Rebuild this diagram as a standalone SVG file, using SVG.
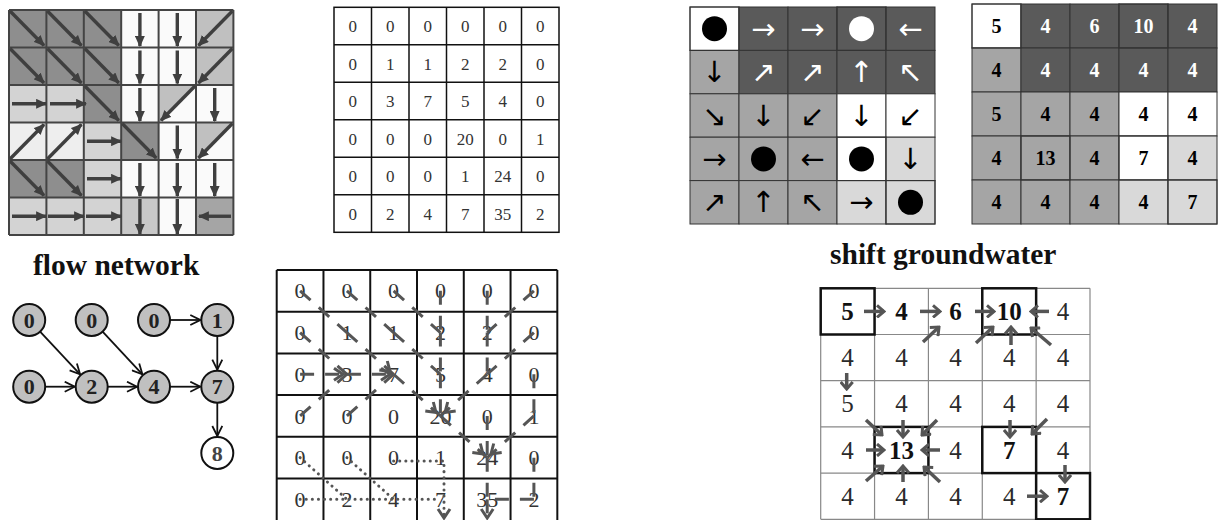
<svg xmlns="http://www.w3.org/2000/svg" width="1228" height="520" viewBox="0 0 1228 520">
<style>
.tla line{stroke:#3f3f3f;stroke-width:3.4;marker-end:url(#th)}
.gl line{stroke:#444;stroke-width:2}
.ser{font-family:'Liberation Serif','Times New Roman',serif;text-anchor:middle}
.m16{font-size:17px;fill:#333}
.b20{font-size:20px;font-weight:bold}
.n22{font-size:22px;fill:#333}
.n25{font-size:25px;fill:#2a2a2a}
.bb25{font-size:25px;font-weight:bold;fill:#111}
.arw{font-family:'DejaVu Sans',sans-serif;font-size:29px;text-anchor:middle;dominant-baseline:central}
.wt{fill:#fff}
.bk{fill:#000}
.thick{fill:none;stroke:#000;stroke-width:3}
.dash{stroke:#555;stroke-width:3;stroke-dasharray:14 11;fill:none}
.dot{stroke:#555;stroke-width:3;stroke-dasharray:0.1 6;stroke-linecap:round;fill:none}
.hd{stroke:#555;stroke-width:3;fill:none}
.ga line{stroke:#555;stroke-width:3.5;marker-end:url(#gv)}
.fe line{stroke:#111;stroke-width:1.8;marker-end:url(#fv)}
.node circle{fill:#c0c0c0;stroke:#111;stroke-width:2}
.node text{font-family:'Liberation Serif','Times New Roman',serif;font-size:22px;font-weight:bold;text-anchor:middle;fill:#222}
.title{font-family:'Liberation Serif','Times New Roman',serif;font-weight:bold;font-size:29.5px;fill:#111}
.c1 rect{stroke:#333;stroke-width:1}
</style>
<defs>
<marker id="th" viewBox="0 0 10 9" refX="9" refY="4.5" markerWidth="11" markerHeight="10" markerUnits="userSpaceOnUse" orient="auto"><path d="M0,0 L10,4.5 L0,9 z" fill="#3f3f3f"/></marker>
<marker id="fv" viewBox="0 0 12 12" refX="11" refY="6" markerWidth="12" markerHeight="12" markerUnits="userSpaceOnUse" orient="auto"><path d="M1,1 L11,6 L1,11" fill="none" stroke="#111" stroke-width="1.8"/></marker>
<marker id="gv" viewBox="0 0 12 14" refX="10" refY="7" markerWidth="12" markerHeight="14" markerUnits="userSpaceOnUse" orient="auto"><path d="M3,1 L10,7 L3,13" fill="none" stroke="#555" stroke-width="3"/></marker>
</defs>
<rect width="1228" height="520" fill="#fff"/>

<!-- top-left flow direction grid -->
<g id="flowdir">
<g>
<rect x="9" y="10" width="37.4" height="37.5" fill="#8e8e8e"/><rect x="46.4" y="10" width="37.4" height="37.5" fill="#8e8e8e"/><rect x="83.8" y="10" width="37.4" height="37.5" fill="#8e8e8e"/><rect x="121.2" y="10" width="37.4" height="37.5" fill="#fafafa"/><rect x="158.6" y="10" width="37.4" height="37.5" fill="#fafafa"/><rect x="196" y="10" width="37.4" height="37.5" fill="#c0c0c0"/>
<rect x="9" y="47.5" width="37.4" height="37.5" fill="#8e8e8e"/><rect x="46.4" y="47.5" width="37.4" height="37.5" fill="#8e8e8e"/><rect x="83.8" y="47.5" width="37.4" height="37.5" fill="#8e8e8e"/><rect x="121.2" y="47.5" width="37.4" height="37.5" fill="#fafafa"/><rect x="158.6" y="47.5" width="37.4" height="37.5" fill="#fafafa"/><rect x="196" y="47.5" width="37.4" height="37.5" fill="#c0c0c0"/>
<rect x="9" y="85" width="37.4" height="37.5" fill="#d3d3d3"/><rect x="46.4" y="85" width="37.4" height="37.5" fill="#d3d3d3"/><rect x="83.8" y="85" width="37.4" height="37.5" fill="#8e8e8e"/><rect x="121.2" y="85" width="37.4" height="37.5" fill="#fafafa"/><rect x="158.6" y="85" width="37.4" height="37.5" fill="#fafafa"/><rect x="196" y="85" width="37.4" height="37.5" fill="#fafafa"/>
<polygon points="158.6,85 196,85 158.6,122.5" fill="#c0c0c0"/>
<rect x="9" y="122.5" width="37.4" height="37.5" fill="#eeeeee"/><rect x="46.4" y="122.5" width="37.4" height="37.5" fill="#eeeeee"/><rect x="83.8" y="122.5" width="37.4" height="37.5" fill="#d3d3d3"/><rect x="121.2" y="122.5" width="37.4" height="37.5" fill="#8e8e8e"/><rect x="158.6" y="122.5" width="37.4" height="37.5" fill="#fafafa"/><rect x="196" y="122.5" width="37.4" height="37.5" fill="#fafafa"/>
<polygon points="196,122.5 233.4,122.5 196,160" fill="#c0c0c0"/>
<rect x="9" y="160" width="37.4" height="37.5" fill="#8e8e8e"/><rect x="46.4" y="160" width="37.4" height="37.5" fill="#8e8e8e"/><rect x="83.8" y="160" width="37.4" height="37.5" fill="#d3d3d3"/><rect x="121.2" y="160" width="37.4" height="37.5" fill="#fafafa"/><rect x="158.6" y="160" width="37.4" height="37.5" fill="#fafafa"/><rect x="196" y="160" width="37.4" height="37.5" fill="#fafafa"/>
<rect x="9" y="197.5" width="37.4" height="37.5" fill="#d3d3d3"/><rect x="46.4" y="197.5" width="37.4" height="37.5" fill="#d3d3d3"/><rect x="83.8" y="197.5" width="37.4" height="37.5" fill="#d3d3d3"/><rect x="121.2" y="197.5" width="37.4" height="37.5" fill="#c8c8c8"/><rect x="158.6" y="197.5" width="37.4" height="37.5" fill="#fafafa"/><rect x="196" y="197.5" width="37.4" height="37.5" fill="#a5a5a5"/>
</g>
<g class="gl">
<line x1="9" y1="10" x2="9" y2="235"/><line x1="46.4" y1="10" x2="46.4" y2="235"/><line x1="83.8" y1="10" x2="83.8" y2="235"/><line x1="121.2" y1="10" x2="121.2" y2="235"/><line x1="158.6" y1="10" x2="158.6" y2="235"/><line x1="196" y1="10" x2="196" y2="235"/><line x1="233.4" y1="10" x2="233.4" y2="235"/>
<line x1="9" y1="10" x2="233.4" y2="10"/><line x1="9" y1="47.5" x2="233.4" y2="47.5"/><line x1="9" y1="85" x2="233.4" y2="85"/><line x1="9" y1="122.5" x2="233.4" y2="122.5"/><line x1="9" y1="160" x2="233.4" y2="160"/><line x1="9" y1="197.5" x2="233.4" y2="197.5"/><line x1="9" y1="235" x2="233.4" y2="235"/>
</g>
<g class="tla">
<line x1="10" y1="11" x2="44" y2="45.5"/><line x1="47.4" y1="11" x2="81.4" y2="45.5"/><line x1="84.8" y1="11" x2="118.8" y2="45.5"/><line x1="139.9" y1="13" x2="139.9" y2="46"/><line x1="177.3" y1="13" x2="177.3" y2="46"/><line x1="232.4" y1="11" x2="198.5" y2="45.5"/>
<line x1="10" y1="48.5" x2="44" y2="83"/><line x1="47.4" y1="48.5" x2="81.4" y2="83"/><line x1="84.8" y1="48.5" x2="118.8" y2="83"/><line x1="139.9" y1="50.5" x2="139.9" y2="83.5"/><line x1="177.3" y1="50.5" x2="177.3" y2="83.5"/><line x1="232.4" y1="48.5" x2="198.5" y2="83"/>
<line x1="12" y1="103.75" x2="46" y2="103.75"/><line x1="50" y1="103.75" x2="86" y2="103.75"/><line x1="84.8" y1="86" x2="118.8" y2="120.5"/><line x1="139.9" y1="88" x2="139.9" y2="121"/><line x1="195" y1="86" x2="161" y2="120.5"/><line x1="214.7" y1="88" x2="214.7" y2="121"/>
<line x1="10" y1="159" x2="44" y2="124.5"/><line x1="47.4" y1="159" x2="81.4" y2="124.5"/><line x1="87" y1="141.25" x2="121" y2="141.25"/><line x1="122.2" y1="123.5" x2="156.2" y2="158"/><line x1="177.3" y1="125.5" x2="177.3" y2="158.5"/><line x1="232.4" y1="123.5" x2="198.5" y2="158"/>
<line x1="10" y1="161" x2="44" y2="195.5"/><line x1="47.4" y1="161" x2="81.4" y2="195.5"/><line x1="87" y1="178.75" x2="121" y2="178.75"/><line x1="139.9" y1="163" x2="139.9" y2="196"/><line x1="177.3" y1="163" x2="177.3" y2="196"/><line x1="214.7" y1="163" x2="214.7" y2="196"/>
<line x1="12" y1="216.25" x2="46" y2="216.25"/><line x1="48" y1="216.25" x2="84" y2="216.25"/><line x1="86" y1="216.25" x2="121" y2="216.25"/><line x1="139.9" y1="199" x2="139.9" y2="234"/><line x1="177.3" y1="199" x2="177.3" y2="234"/><line x1="231" y1="216.25" x2="199" y2="216.25"/>
</g>
</g>

<!-- top-middle accumulation matrix -->
<g id="accmatrix">
<rect x="334" y="7.3" width="225" height="225" fill="#fff" stroke="#111" stroke-width="1.5"/>
<g stroke="#111" stroke-width="1.5">
<line x1="371.5" y1="7.3" x2="371.5" y2="232.3"/><line x1="409" y1="7.3" x2="409" y2="232.3"/><line x1="446.5" y1="7.3" x2="446.5" y2="232.3"/><line x1="484" y1="7.3" x2="484" y2="232.3"/><line x1="521.5" y1="7.3" x2="521.5" y2="232.3"/>
<line x1="334" y1="44.8" x2="559" y2="44.8"/><line x1="334" y1="82.3" x2="559" y2="82.3"/><line x1="334" y1="119.8" x2="559" y2="119.8"/><line x1="334" y1="157.3" x2="559" y2="157.3"/><line x1="334" y1="194.8" x2="559" y2="194.8"/>
</g>
<g class="ser m16">
<text x="352.75" y="32">0</text><text x="390.25" y="32">0</text><text x="427.75" y="32">0</text><text x="465.25" y="32">0</text><text x="502.75" y="32">0</text><text x="540.25" y="32">0</text>
<text x="352.75" y="69.5">0</text><text x="390.25" y="69.5">1</text><text x="427.75" y="69.5">1</text><text x="465.25" y="69.5">2</text><text x="502.75" y="69.5">2</text><text x="540.25" y="69.5">0</text>
<text x="352.75" y="107">0</text><text x="390.25" y="107">3</text><text x="427.75" y="107">7</text><text x="465.25" y="107">5</text><text x="502.75" y="107">4</text><text x="540.25" y="107">0</text>
<text x="352.75" y="144.5">0</text><text x="390.25" y="144.5">0</text><text x="427.75" y="144.5">0</text><text x="465.25" y="144.5">20</text><text x="502.75" y="144.5">0</text><text x="540.25" y="144.5">1</text>
<text x="352.75" y="182">0</text><text x="390.25" y="182">0</text><text x="427.75" y="182">0</text><text x="465.25" y="182">1</text><text x="502.75" y="182">24</text><text x="540.25" y="182">0</text>
<text x="352.75" y="219.5">0</text><text x="390.25" y="219.5">2</text><text x="427.75" y="219.5">4</text><text x="465.25" y="219.5">7</text><text x="502.75" y="219.5">35</text><text x="540.25" y="219.5">2</text>
</g>
</g>

<!-- top-right direction grid -->
<g id="shiftdir" class="c1">
<rect x="690" y="7" width="49" height="43.4" fill="#fff"/><rect x="739" y="7" width="49" height="43.4" fill="#5a5a5a"/><rect x="788" y="7" width="49" height="43.4" fill="#5a5a5a"/><rect x="837" y="7" width="49" height="43.4" fill="#5a5a5a"/><rect x="886" y="7" width="49" height="43.4" fill="#5a5a5a"/>
<rect x="690" y="50.4" width="49" height="43.4" fill="#a5a5a5"/><rect x="739" y="50.4" width="49" height="43.4" fill="#5a5a5a"/><rect x="788" y="50.4" width="49" height="43.4" fill="#5a5a5a"/><rect x="837" y="50.4" width="49" height="43.4" fill="#5a5a5a"/><rect x="886" y="50.4" width="49" height="43.4" fill="#5a5a5a"/>
<rect x="690" y="93.8" width="49" height="43.4" fill="#a5a5a5"/><rect x="739" y="93.8" width="49" height="43.4" fill="#a5a5a5"/><rect x="788" y="93.8" width="49" height="43.4" fill="#a5a5a5"/><rect x="837" y="93.8" width="49" height="43.4" fill="#fff"/><rect x="886" y="93.8" width="49" height="43.4" fill="#fff"/>
<rect x="690" y="137.2" width="49" height="43.4" fill="#a5a5a5"/><rect x="739" y="137.2" width="49" height="43.4" fill="#a5a5a5"/><rect x="788" y="137.2" width="49" height="43.4" fill="#a5a5a5"/><rect x="837" y="137.2" width="49" height="43.4" fill="#fff"/><rect x="886" y="137.2" width="49" height="43.4" fill="#d9d9d9"/>
<rect x="690" y="180.6" width="49" height="43.4" fill="#a5a5a5"/><rect x="739" y="180.6" width="49" height="43.4" fill="#a5a5a5"/><rect x="788" y="180.6" width="49" height="43.4" fill="#a5a5a5"/><rect x="837" y="180.6" width="49" height="43.4" fill="#d9d9d9"/><rect x="886" y="180.6" width="49" height="43.4" fill="#d9d9d9"/>
<rect class="thick" x="690" y="7" width="49" height="43.4"/><rect class="thick" x="837" y="7" width="49" height="43.4"/><rect class="thick" x="837" y="137.2" width="49" height="43.4"/><rect class="thick" x="886" y="180.6" width="49" height="43.4"/>
<circle cx="714.5" cy="28.7" r="12.5" fill="#000"/><circle cx="861.5" cy="28.7" r="12.5" fill="#fff"/><circle cx="763.5" cy="158.9" r="12.5" fill="#000"/><circle cx="861.5" cy="158.9" r="12.5" fill="#000"/><circle cx="910.5" cy="202.3" r="12.5" fill="#000"/>
<g class="arw">
<text class="wt" x="763.5" y="28.7">→</text><text class="wt" x="812.5" y="28.7">→</text><text class="wt" x="910.5" y="28.7">←</text>
<text class="bk" x="714.5" y="72.1">↓</text><text class="wt" x="763.5" y="72.1">↗</text><text class="wt" x="812.5" y="72.1">↗</text><text class="wt" x="861.5" y="72.1">↑</text><text class="wt" x="910.5" y="72.1">↖</text>
<text class="bk" x="714.5" y="115.5">↘</text><text class="bk" x="763.5" y="115.5">↓</text><text class="bk" x="812.5" y="115.5">↙</text><text class="bk" x="861.5" y="115.5">↓</text><text class="bk" x="910.5" y="115.5">↙</text>
<text class="bk" x="714.5" y="158.9">→</text><text class="bk" x="812.5" y="158.9">←</text><text class="bk" x="910.5" y="158.9">↓</text>
<text class="bk" x="714.5" y="202.3">↗</text><text class="bk" x="763.5" y="202.3">↑</text><text class="bk" x="812.5" y="202.3">↖</text><text class="bk" x="861.5" y="202.3">→</text>
</g>
</g>

<!-- top-right value grid -->
<g id="shiftval" class="c1">
<rect x="972" y="4" width="49" height="44" fill="#fff"/><rect x="1021" y="4" width="49" height="44" fill="#5a5a5a"/><rect x="1070" y="4" width="49" height="44" fill="#5a5a5a"/><rect x="1119" y="4" width="49" height="44" fill="#5a5a5a"/><rect x="1168" y="4" width="49" height="44" fill="#5a5a5a"/>
<rect x="972" y="48" width="49" height="44" fill="#a5a5a5"/><rect x="1021" y="48" width="49" height="44" fill="#5a5a5a"/><rect x="1070" y="48" width="49" height="44" fill="#5a5a5a"/><rect x="1119" y="48" width="49" height="44" fill="#5a5a5a"/><rect x="1168" y="48" width="49" height="44" fill="#5a5a5a"/>
<rect x="972" y="92" width="49" height="44" fill="#a5a5a5"/><rect x="1021" y="92" width="49" height="44" fill="#a5a5a5"/><rect x="1070" y="92" width="49" height="44" fill="#a5a5a5"/><rect x="1119" y="92" width="49" height="44" fill="#fff"/><rect x="1168" y="92" width="49" height="44" fill="#fff"/>
<rect x="972" y="136" width="49" height="44" fill="#a5a5a5"/><rect x="1021" y="136" width="49" height="44" fill="#a5a5a5"/><rect x="1070" y="136" width="49" height="44" fill="#a5a5a5"/><rect x="1119" y="136" width="49" height="44" fill="#fff"/><rect x="1168" y="136" width="49" height="44" fill="#d9d9d9"/>
<rect x="972" y="180" width="49" height="44" fill="#a5a5a5"/><rect x="1021" y="180" width="49" height="44" fill="#a5a5a5"/><rect x="1070" y="180" width="49" height="44" fill="#a5a5a5"/><rect x="1119" y="180" width="49" height="44" fill="#d9d9d9"/><rect x="1168" y="180" width="49" height="44" fill="#d9d9d9"/>
<rect class="thick" x="972" y="4" width="49" height="44"/><rect class="thick" x="1119" y="4" width="49" height="44"/><rect class="thick" x="1021" y="136" width="49" height="44"/><rect class="thick" x="1119" y="136" width="49" height="44"/><rect class="thick" x="1168" y="180" width="49" height="44"/>
<g class="ser b20">
<text class="bk" x="996.5" y="33">5</text><text class="wt" x="1045.5" y="33">4</text><text class="wt" x="1094.5" y="33">6</text><text class="wt" x="1143.5" y="33">10</text><text class="wt" x="1192.5" y="33">4</text>
<text class="bk" x="996.5" y="77">4</text><text class="wt" x="1045.5" y="77">4</text><text class="wt" x="1094.5" y="77">4</text><text class="wt" x="1143.5" y="77">4</text><text class="wt" x="1192.5" y="77">4</text>
<text class="bk" x="996.5" y="121">5</text><text class="bk" x="1045.5" y="121">4</text><text class="bk" x="1094.5" y="121">4</text><text class="bk" x="1143.5" y="121">4</text><text class="bk" x="1192.5" y="121">4</text>
<text class="bk" x="996.5" y="165">4</text><text class="bk" x="1045.5" y="165">13</text><text class="bk" x="1094.5" y="165">4</text><text class="bk" x="1143.5" y="165">7</text><text class="bk" x="1192.5" y="165">4</text>
<text class="bk" x="996.5" y="209">4</text><text class="bk" x="1045.5" y="209">4</text><text class="bk" x="1094.5" y="209">4</text><text class="bk" x="1143.5" y="209">4</text><text class="bk" x="1192.5" y="209">7</text>
</g>
</g>

<text class="title" x="33" y="275">flow network</text>
<text class="title" x="830" y="264">shift groundwater</text>

<!-- flow network graph -->
<g id="fn-edges" class="fe">
<line x1="40.1" y1="331.7" x2="80.1" y2="374.3"/>
<line x1="102.6" y1="331.7" x2="142.4" y2="374.3"/>
<line x1="170" y1="320" x2="200.3" y2="320"/>
<line x1="217.3" y1="336" x2="217.3" y2="369.7"/>
<line x1="45.2" y1="386.7" x2="74.7" y2="386.7"/>
<line x1="107.7" y1="386.7" x2="137" y2="386.7"/>
<line x1="170" y1="386.7" x2="200.3" y2="386.7"/>
<line x1="217.3" y1="402.7" x2="217.3" y2="436"/>
</g>
<g id="fn-a" class="node"><circle cx="29.2" cy="320" r="16"/><text x="29.2" y="327.5">0</text></g>
<g id="fn-b" class="node"><circle cx="91.7" cy="320" r="16"/><text x="91.7" y="327.5">0</text></g>
<g id="fn-c" class="node"><circle cx="154" cy="320" r="16"/><text x="154" y="327.5">0</text></g>
<g id="fn-d" class="node"><circle cx="217.3" cy="320" r="16"/><text x="217.3" y="327.5">1</text></g>
<g id="fn-e" class="node"><circle cx="29.2" cy="386.7" r="16"/><text x="29.2" y="394.2">0</text></g>
<g id="fn-f" class="node"><circle cx="91.7" cy="386.7" r="16"/><text x="91.7" y="394.2">2</text></g>
<g id="fn-g" class="node"><circle cx="154" cy="386.7" r="16"/><text x="154" y="394.2">4</text></g>
<g id="fn-h" class="node"><circle cx="217.3" cy="386.7" r="16"/><text x="217.3" y="394.2">7</text></g>
<g id="fn-i" class="node"><circle cx="217.3" cy="453" r="16" style="fill:#fff"/><text x="217.3" y="460.5" style="fill:#444">8</text></g>

<!-- bottom-middle grid with paths -->
<g id="pathgrid">
<g stroke="#111" stroke-width="2" fill="none">
<line x1="276.7" y1="270" x2="276.7" y2="520"/><line x1="323.47" y1="270" x2="323.47" y2="520"/><line x1="370.24" y1="270" x2="370.24" y2="520"/><line x1="417.01" y1="270" x2="417.01" y2="520"/><line x1="463.78" y1="270" x2="463.78" y2="520"/><line x1="510.55" y1="270" x2="510.55" y2="520"/><line x1="557.32" y1="270" x2="557.32" y2="520"/>
<line x1="276.7" y1="270" x2="557.32" y2="270"/><line x1="276.7" y1="311.7" x2="557.32" y2="311.7"/><line x1="276.7" y1="353.4" x2="557.32" y2="353.4"/><line x1="276.7" y1="395.1" x2="557.32" y2="395.1"/><line x1="276.7" y1="436.8" x2="557.32" y2="436.8"/><line x1="276.7" y1="478.5" x2="557.32" y2="478.5"/>
</g>
<g class="ser n22">
<text x="300.1" y="298.4">0</text><text x="346.9" y="298.4">0</text><text x="393.6" y="298.4">0</text><text x="440.4" y="298.4">0</text><text x="487.2" y="298.4">0</text><text x="533.9" y="298.4">0</text>
<text x="300.1" y="340.1">0</text><text x="346.9" y="340.1">1</text><text x="393.6" y="340.1">1</text><text x="440.4" y="340.1">2</text><text x="487.2" y="340.1">2</text><text x="533.9" y="340.1">0</text>
<text x="300.1" y="381.8">0</text><text x="346.9" y="381.8">3</text><text x="393.6" y="381.8">7</text><text x="440.4" y="381.8">5</text><text x="487.2" y="381.8">4</text><text x="533.9" y="381.8">0</text>
<text x="300.1" y="423.5">0</text><text x="346.9" y="423.5">0</text><text x="393.6" y="423.5">0</text><text x="440.4" y="423.5">20</text><text x="487.2" y="423.5">0</text><text x="533.9" y="423.5">1</text>
<text x="300.1" y="465.2">0</text><text x="346.9" y="465.2">0</text><text x="393.6" y="465.2">0</text><text x="440.4" y="465.2">1</text><text x="487.2" y="465.2">24</text><text x="533.9" y="465.2">0</text>
<text x="300.1" y="506.9">0</text><text x="346.9" y="506.9">2</text><text x="393.6" y="506.9">4</text><text x="440.4" y="506.9">7</text><text x="487.2" y="506.9">35</text><text x="533.9" y="506.9">2</text>
</g>
</g>
<g id="path-connectors">
<g class="dash">
<path d="M300.1,290.85 L346.9,332.55"/><path d="M346.9,290.85 L393.6,332.55"/><path d="M393.6,290.85 L440.4,332.55"/><path d="M440.4,290.85 L440.4,332.55"/><path d="M487.2,290.85 L487.2,332.55"/><path d="M533.9,290.85 L487.2,332.55"/>
<path d="M300.1,332.55 L346.9,374.25"/><path d="M346.9,332.55 L393.6,374.25"/><path d="M393.6,332.55 L440.4,374.25"/><path d="M440.4,332.55 L440.4,374.25"/><path d="M487.2,332.55 L487.2,374.25"/><path d="M533.9,332.55 L487.2,374.25"/>
<path d="M300.1,374.25 L346.9,374.25"/><path d="M346.9,374.25 L393.6,374.25"/><path d="M393.6,374.25 L440.4,415.95"/><path d="M440.4,374.25 L440.4,415.95"/><path d="M487.2,374.25 L440.4,415.95"/><path d="M533.9,374.25 L533.9,415.95"/>
<path d="M300.1,415.95 L346.9,374.25"/><path d="M346.9,415.95 L393.6,374.25"/><path d="M440.4,415.95 L487.2,457.65"/><path d="M487.2,415.95 L487.2,457.65"/><path d="M533.9,415.95 L487.2,457.65"/>
<path d="M487.2,457.65 L487.2,499.35"/><path d="M533.9,457.65 L533.9,499.35"/><path d="M533.9,499.35 L487.2,499.35"/><path d="M487.2,499.35 L487.2,518"/>
</g>
<g class="dot">
<path d="M300.1,457.65 L346.9,499.35"/><path d="M346.9,457.65 L393.6,499.35"/><path d="M393.6,461 L444,461 L444,516"/><path d="M300.1,499.35 L440.4,499.35"/>
</g>
<g class="hd">
<path d="M334,368.25 L343,374.25 L334,380.25"/>
<path d="M381,368.25 L390,374.25 L381,380.25"/>
<path d="M379.3,370 L390,371.5 L387.3,361"/>
<path d="M425.3,411 L436,412.5 L433.3,402"/>
<path d="M447.7,402 L445,412.5 L455.7,411"/>
<path d="M472.3,452.5 L483,454 L480.3,443.5"/>
<path d="M493.7,443.5 L491,454 L501.7,452.5"/>
<path d="M438,509 L444,518 L450,509"/>
<path d="M481.2,509 L487.2,518 L493.2,509"/>
</g>
</g>

<!-- bottom-right shift grid -->
<g id="shiftgrid">
<g stroke="#888" stroke-width="1.2">
<line x1="820.7" y1="288.3" x2="820.7" y2="519.3"/><line x1="874.56" y1="288.3" x2="874.56" y2="519.3"/><line x1="928.42" y1="288.3" x2="928.42" y2="519.3"/><line x1="982.28" y1="288.3" x2="982.28" y2="519.3"/><line x1="1036.14" y1="288.3" x2="1036.14" y2="519.3"/><line x1="1090" y1="288.3" x2="1090" y2="519.3"/>
<line x1="820.7" y1="288.3" x2="1090" y2="288.3"/><line x1="820.7" y1="334.5" x2="1090" y2="334.5"/><line x1="820.7" y1="380.7" x2="1090" y2="380.7"/><line x1="820.7" y1="426.9" x2="1090" y2="426.9"/><line x1="820.7" y1="473.1" x2="1090" y2="473.1"/><line x1="820.7" y1="519.3" x2="1090" y2="519.3"/>
</g>
<g fill="none" stroke="#111" stroke-width="2.5">
<rect x="820.7" y="288.3" width="53.86" height="46.2"/><rect x="982.28" y="288.3" width="53.86" height="46.2"/><rect x="874.56" y="426.9" width="53.86" height="46.2"/><rect x="982.28" y="426.9" width="53.86" height="46.2"/><rect x="1036.14" y="473.1" width="53.86" height="46.2"/>
</g>
<g class="ser">
<text class="bb25" x="847.6" y="319.9">5</text><text class="bb25" x="901.5" y="319.9">4</text><text class="bb25" x="955.4" y="319.9">6</text><text class="bb25" x="1009.2" y="319.9">10</text><text class="n25" x="1063.1" y="319.9">4</text>
<text class="n25" x="847.6" y="366.1">4</text><text class="n25" x="901.5" y="366.1">4</text><text class="n25" x="955.4" y="366.1">4</text><text class="n25" x="1009.2" y="366.1">4</text><text class="n25" x="1063.1" y="366.1">4</text>
<text class="n25" x="847.6" y="412.3">5</text><text class="n25" x="901.5" y="412.3">4</text><text class="n25" x="955.4" y="412.3">4</text><text class="n25" x="1009.2" y="412.3">4</text><text class="n25" x="1063.1" y="412.3">4</text>
<text class="n25" x="847.6" y="458.5">4</text><text class="bb25" x="901.5" y="458.5">13</text><text class="n25" x="955.4" y="458.5">4</text><text class="bb25" x="1009.2" y="458.5">7</text><text class="n25" x="1063.1" y="458.5">4</text>
<text class="n25" x="847.6" y="504.7">4</text><text class="n25" x="901.5" y="504.7">4</text><text class="n25" x="955.4" y="504.7">4</text><text class="n25" x="1009.2" y="504.7">4</text><text class="bb25" x="1063.1" y="504.7">7</text>
</g>
</g>
<g id="shift-connectors" class="ga">
<line x1="864" y1="311.4" x2="884" y2="311.4"/>
<line x1="920" y1="311.4" x2="940" y2="311.4"/>
<line x1="975" y1="311.4" x2="994" y2="311.4"/>
<line x1="1049" y1="311.4" x2="1031" y2="311.4"/>
<line x1="923" y1="342" x2="939" y2="327"/>
<line x1="976" y1="343" x2="993" y2="327"/>
<line x1="1011" y1="345" x2="1011" y2="327"/>
<line x1="1051" y1="345" x2="1031" y2="328"/>
<line x1="846.7" y1="373" x2="846.7" y2="389"/>
<line x1="866" y1="420" x2="882" y2="435"/>
<line x1="903" y1="420" x2="903" y2="437"/>
<line x1="937" y1="420" x2="922" y2="435"/>
<line x1="866" y1="450" x2="884" y2="450"/>
<line x1="940" y1="450" x2="922" y2="450"/>
<line x1="866" y1="481" x2="883" y2="466"/>
<line x1="903" y1="482" x2="903" y2="466"/>
<line x1="940" y1="482" x2="924" y2="467"/>
<line x1="1010" y1="420" x2="1010" y2="437"/>
<line x1="1047" y1="419" x2="1032" y2="434"/>
<line x1="1065" y1="465" x2="1065" y2="482"/>
<line x1="1027" y1="496.2" x2="1047" y2="496.2"/>
</g>
</svg>
